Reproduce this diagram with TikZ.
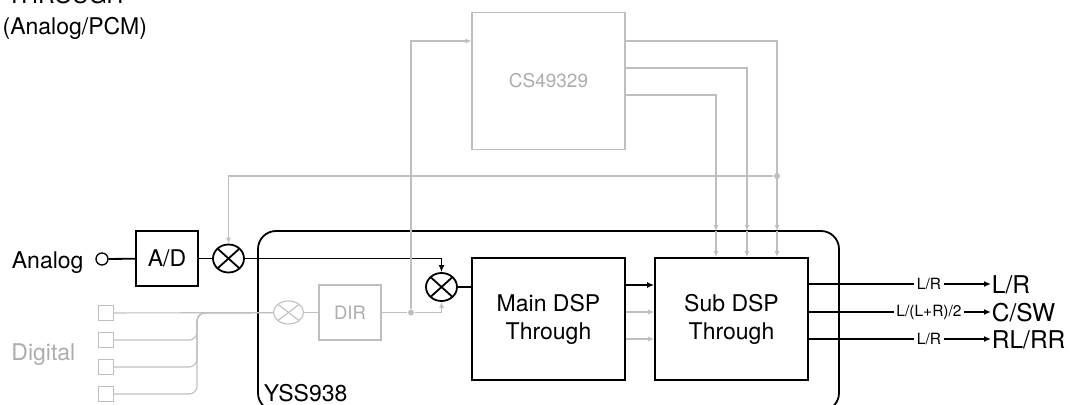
\documentclass[tikz,border=0pt]{standalone}
\usepackage{fontspec}
\setmainfont{TeX Gyre Heros}
\usetikzlibrary{arrows.meta,shapes.geometric}

\tikzset{
  bk/.tip={Latex[length=7pt,width=6pt]},
  gt/.tip={Latex[length=6pt,width=5pt]},
  gl/.style={draw=black!25,line width=1.1pt},
  dsp/.style={draw,minimum width=153pt,minimum height=122pt,align=center,inner sep=0pt},
  conv/.style={draw,minimum width=62pt,minimum height=55pt,inner sep=0pt},
  mult/.style={draw=#1,ellipse,minimum width=31pt,minimum height=28pt,inner sep=0pt,
    path picture={\draw[#1] (path picture bounding box.north west) -- (path picture bounding box.south east)
      (path picture bounding box.south west) -- (path picture bounding box.north east);}},
  mult/.default=black,
  sq/.style={draw=black!25,line width=1.1pt,minimum size=15pt,inner sep=0pt},
  jdot/.style={circle,fill=black!25,minimum size=6pt,inner sep=0pt},
  tag/.style={font=\fontsize{15.5}{18}\selectfont,inner sep=2pt},
  outl/.style={font=\fontsize{24.5}{28}\selectfont,anchor=base west,inner sep=0pt}
}

\begin{document}
\begin{tikzpicture}[x=1pt,y=-1pt,line width=1.8pt,font=\fontsize{23}{28}\selectfont]
  \useasboundingbox (0,0) rectangle (1070,404);

  % heading
  \node[anchor=base west,inner sep=0pt] (hd) at (6.5,4) {THROUGH};
  \node[anchor=base west,inner sep=0pt] (sub hd) at (1.7,35) {(Analog/PCM)};

  % chip outline
  \node[draw,rounded corners=18pt,minimum width=581pt,minimum height=180pt] (yss) at (548.5,321) {};
  \node[anchor=base west,inner sep=0pt] (yssl) at (263,401) {YSS938};

  % analog path
  \node[anchor=base west,inner sep=0pt] (alab) at (11,268) {Analog};
  \node[draw,circle,minimum size=12pt,inner sep=0pt,line width=1.3pt] (ain) at (102,259) {};
  \node[conv] (ad) at (167,258.5) {A/D};
  \node[mult] (mx1) at (228.5,258.5) {};
  \node[mult] (mx2) at (441.5,287) {};
  \node[dsp] (main) at (548.5,319) {Main DSP\\Through};
  \node[dsp] (sub) at (731.5,319) {Sub DSP\\Through};

  \draw (ain) -- (ad);
  \draw (ad) -- (mx1);
  \draw[-bk] (mx1) -| (mx2);
  \draw (mx2) -- (mx2 -| main.west);
  \draw[-bk] ([yshift=34pt]main.east) -- ([yshift=34pt]sub.west);
  \draw[gl,-gt] ([yshift=7pt]main.east) -- ([yshift=7pt]sub.west);
  \draw[gl,-gt] ([yshift=-20pt]main.east) -- ([yshift=-20pt]sub.west);

  % digital path
  \node[anchor=base west,inner sep=0pt,text=black!32] (dlab) at (10.5,360) {Digital};
  \foreach \yy [count=\i] in {313,340,367,394}
    \node[sq] (d\i) at (106,\yy) {};
  \coordinate (fan) at (197,313);
  \node[mult=black!25,line width=1.1pt,minimum height=23pt,minimum width=30pt] (mx3) at (288.5,312.5) {};
  \node[conv,draw=black!25,line width=1.1pt,text=black!32,font=\fontsize{18.5}{22}\selectfont] (dir) at (350,312.5) {DIR};
  \node[jdot] (dj) at (411,312.5) {};
  \draw[gl] (d1) -- (mx3);
  \foreach \i in {2,3,4}
    \draw[gl,rounded corners=8pt] (d\i) -| (fan) -- (mx3);
  \draw[gl] (mx3) -- (dir);
  \draw[gl] (dir) -- (dj);
  \draw[gl,-gt] (dj) -| (mx2);

  % decoder
  \node[draw=black!25,line width=1.1pt,minimum width=153pt,minimum height=137pt,text=black!32,
    font=\fontsize{19}{22}\selectfont] (cs) at (548.5,81) {CS49329};
  \draw[gl,-gt] (dj) |- ([yshift=40pt]cs.west);
  \foreach \ys/\xx [count=\i] in {40/777,13/747,-14/716}{
    \coordinate (b\i) at (\xx,231);
    \draw[gl,-gt] ([yshift=\ys pt]cs.east) -| (b\i);
    \draw[gl,-gt] (b\i) -- (b\i |- sub.north);
  }
  \node[jdot] (jn) at (777,176) {};
  \draw[gl,-gt] (jn) -| (mx1);

  % outputs
  \foreach \yy/\sm/\bg [count=\i] in {284/{L/R}/{L/R},312/{L/(L+R)/2}/{C/SW},339/{L/R}/{RL/RR}}{
    \node[tag] (s\i) at (929,\yy) {\sm};
    \node[outl] (o\i) at (991,\yy+9) {\bg};
    \draw (s\i -| sub.east) -- (s\i);
    \draw[-bk] (s\i) -- (s\i -| o\i.west);
  }
\end{tikzpicture}
\end{document}
